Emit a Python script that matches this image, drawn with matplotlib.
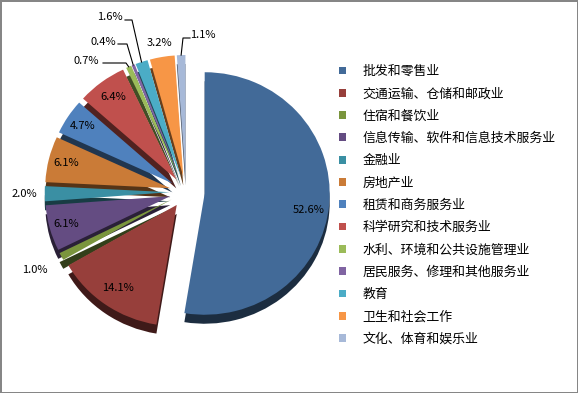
import numpy as np
import matplotlib.pyplot as plt
from matplotlib.colors import to_rgb

plt.rcParams['font.family'] = ['Noto Sans CJK SC', 'DejaVu Sans']

industries = ['批发和零售业', '交通运输、仓储和邮政业', '住宿和餐饮业',
              '信息传输、软件和信息技术服务业', '金融业', '房地产业',
              '租赁和商务服务业', '科学研究和技术服务业', '水利、环境和公共设施管理业',
              '居民服务、修理和其他服务业', '教育', '卫生和社会工作', '文化、体育和娱乐业']
shares = [52.6, 14.1, 1.0, 6.1, 2.0, 6.1, 4.7, 6.4, 0.7, 0.4, 1.6, 3.2, 1.1]

colors = ['#426A98', '#973F3B', '#7A953D', '#644C82', '#3A8FA3', '#CA7B37',
          '#4F81BD', '#C0504D', '#9BBB59', '#8064A2', '#4BACC6', '#F79646', '#A7B9D8']
explode = [0.15] + [0.13] * 12

# label layout: (distance from wedge tip in radii, angle shift in degrees)
label_pos = {0: (0.84, -4.5), 1: (0.83, 0), 2: (1.24, 0), 3: (0.86, 0),
             4: (1.16, 0), 5: (0.86, 0), 6: (0.86, 0), 7: (0.85, 0),
             11: (1.12, 0)}
# leader labels: text position, line start, elbow x (pixels, y up)
leaders = {8: ((86, 332), (103, 330), 126),
           9: ((103, 351), (118, 349), 127),
           10: ((110, 376), (125, 373), 132),
           12: ((203, 358), (190, 355), 183)}

W, H = 578, 393
cx, cy, r = 186, 201, 125
sy = 0.97     # slight vertical squash (tilted pie)
depth = 9


def to_data(y):
    return cy + (y - cy) / sy


fig = plt.figure(figsize=(5.78, 3.93), dpi=100, edgecolor='#868686', linewidth=2)
ax = fig.add_axes([0, 0, 1, 1])

expl = [e * r for e in explode]
dark = [tuple(v * 0.42 for v in to_rgb(c)) for c in colors]
ax.pie(shares, explode=expl, colors=dark, startangle=90, counterclock=False,
       center=(cx, cy - depth / sy), radius=r, wedgeprops=dict(linewidth=0))
wedges, _ = ax.pie(shares, explode=expl, colors=colors, startangle=90,
                   counterclock=False, center=(cx, cy), radius=r,
                   wedgeprops=dict(linewidth=0))

for i, w in enumerate(wedges):
    mid = np.deg2rad((w.theta1 + w.theta2) / 2)
    x0, y0 = w.center
    txt = '%.1f%%' % shares[i]
    if i in label_pos:
        d, shift = label_pos[i]
        a = mid + np.deg2rad(shift)
        ax.text(x0 + d * r * np.cos(a), y0 + d * r * np.sin(a), txt, fontsize=8,
                ha='center', va='center')
    else:
        tpos, start, ex = leaders[i]
        ax.text(tpos[0], to_data(tpos[1]), txt, fontsize=8, ha='center', va='center')
        px, py = x0 + r * np.cos(mid), y0 + r * np.sin(mid)
        ax.plot([start[0], ex, px], [to_data(start[1]), to_data(start[1]), py],
                color='black', lw=0.8)

ax.set_xlim(0, W)
ax.set_ylim(to_data(0), to_data(H))
ax.set_aspect('auto')
ax.axis('off')

ax.legend(wedges, industries, loc='upper left', bbox_to_anchor=(339, to_data(328)),
          bbox_transform=ax.transData, frameon=False, fontsize=9.3,
          handlelength=0.55, handleheight=0.55, handletextpad=1.25,
          labelspacing=0.72, borderpad=0, borderaxespad=0)

fig.savefig('out.png', dpi=100)
